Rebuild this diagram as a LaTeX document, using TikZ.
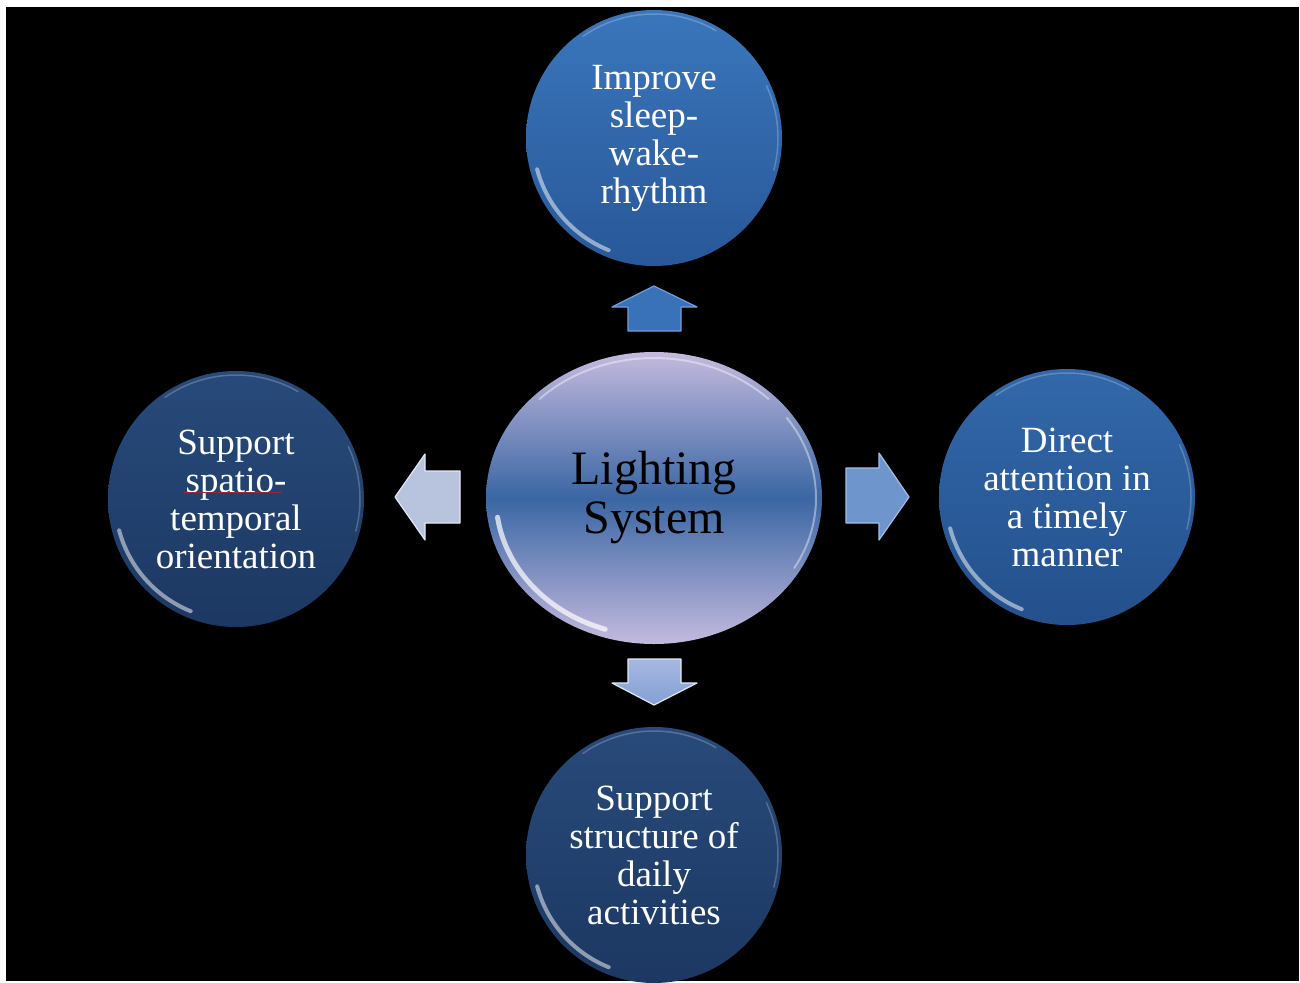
\documentclass[tikz,border=0pt]{standalone}
\usepackage{fontspec}
\setmainfont{Liberation Serif}
\usetikzlibrary{shapes.geometric}
\definecolor{bgblack}{RGB}{0,0,0}
\definecolor{topA}{RGB}{58,118,188}
\definecolor{topB}{RGB}{40,88,152}
\definecolor{rightA}{RGB}{50,104,170}
\definecolor{rightB}{RGB}{36,80,140}
\definecolor{navyA}{RGB}{40,74,122}
\definecolor{navyB}{RGB}{28,56,98}
\definecolor{lavA}{RGB}{196,186,222}
\definecolor{lavM}{RGB}{58,102,163}
\definecolor{arrUp}{RGB}{58,114,186}
\definecolor{arrUpE}{RGB}{110,160,220}
\definecolor{arrLeft}{RGB}{184,196,222}
\definecolor{arrLeftE}{RGB}{225,232,245}
\definecolor{arrRight}{RGB}{110,150,204}
\definecolor{arrRightE}{RGB}{160,190,230}
\definecolor{arrDownA}{RGB}{166,184,224}
\definecolor{arrDownB}{RGB}{132,160,214}
\definecolor{squig}{RGB}{150,40,60}
\tikzset{
  bubble/.style={circle, inner sep=0pt, minimum size=256pt, align=center,
    text=white, font=\fontsize{37}{38}\selectfont},
  hub/.style={ellipse, inner sep=0pt, minimum width=336pt, minimum height=292pt,
    align=center, text=black, font=\fontsize{48}{49}\selectfont,
    top color=lavA, bottom color=lavA, middle color=lavM},
  rimlow/.style={white, opacity=0.5, line width=4pt, line cap=round},
  rimtop/.style={white, opacity=0.22, line width=1.5pt, line cap=round},
  hubrim/.style={white, opacity=0.7, line width=5pt, line cap=round},
  hubrimthin/.style={white, opacity=0.4, line width=2pt, line cap=round},
  blockarrow/.style={line width=1.2pt, line join=round}
}
\begin{document}
\begin{tikzpicture}[x=1pt,y=-1pt]
\useasboundingbox (0,0) rectangle (1300,982);
\fill[white] (0,0) rectangle (1300,982);
\fill[bgblack] (6,7) rectangle (1299,981);

% circles
\node[bubble, top color=topA, bottom color=topB] (improve) at (654,138)
  {Improve\\sleep-\\wake-\\rhythm};
\node[bubble, top color=navyA, bottom color=navyB] (spatio) at (236,499)
  {Support\\spatio-\\temporal\\orientation};
\node[bubble, top color=rightA, bottom color=rightB] (direct) at (1067,497)
  {Direct\\attention in\\a timely\\manner};
\node[bubble, top color=navyA, bottom color=navyB] (daily) at (654,855)
  {Support\\structure of\\daily\\activities};
\node[hub] (hub) at (654,498) {Lighting\\System};

% glossy rims on the circles
\foreach \n in {improve,spatio,direct,daily}{
  \draw[rimlow] (\n.center) ++(112:121) arc[start angle=112, end angle=165, radius=121];
  \draw[rimtop] (\n.center) ++(235:124) arc[start angle=235, end angle=300, radius=124];
  \draw[rimtop] (\n.center) ++(335:124) arc[start angle=335, end angle=375, radius=124];
}
% glossy rims on the hub
\draw[hubrim] (hub.center) ++(108:158 and 138)
  arc[start angle=108, end angle=172, x radius=158, y radius=138];
\draw[hubrimthin] (hub.center) ++(225:162 and 140)
  arc[start angle=225, end angle=315, x radius=162, y radius=140];
\draw[hubrimthin] (hub.center) ++(325:162 and 140)
  arc[start angle=325, end angle=390, x radius=162, y radius=140];

% spell-check squiggle under "spatio"
\draw[squig, line width=0.9pt] (184,492) -- (282,492);

% block arrows
\coordinate (upTip) at (654,286);
\coordinate (leftTip) at (395,497);
\coordinate (rightTip) at (909,497);
\coordinate (downTip) at (654,705);

\filldraw[blockarrow, fill=arrUp, draw=arrUpE]
  (upTip) -- (697,307) -- (681,307) -- (681,331) -- (628,331) -- (628,307) -- (612,307) -- cycle;
\filldraw[blockarrow, fill=arrLeft, draw=arrLeftE]
  (leftTip) -- (425,454) -- (425,471) -- (460,471) -- (460,523) -- (425,523) -- (425,540) -- cycle;
\filldraw[blockarrow, fill=arrRight, draw=arrRightE]
  (rightTip) -- (879,453) -- (879,468) -- (846,468) -- (846,523) -- (879,523) -- (879,540) -- cycle;
\filldraw[blockarrow, top color=arrDownA, bottom color=arrDownB, draw=arrLeftE]
  (downTip) -- (697,683) -- (681,683) -- (681,659) -- (628,659) -- (628,683) -- (612,683) -- cycle;
\end{tikzpicture}
\end{document}
